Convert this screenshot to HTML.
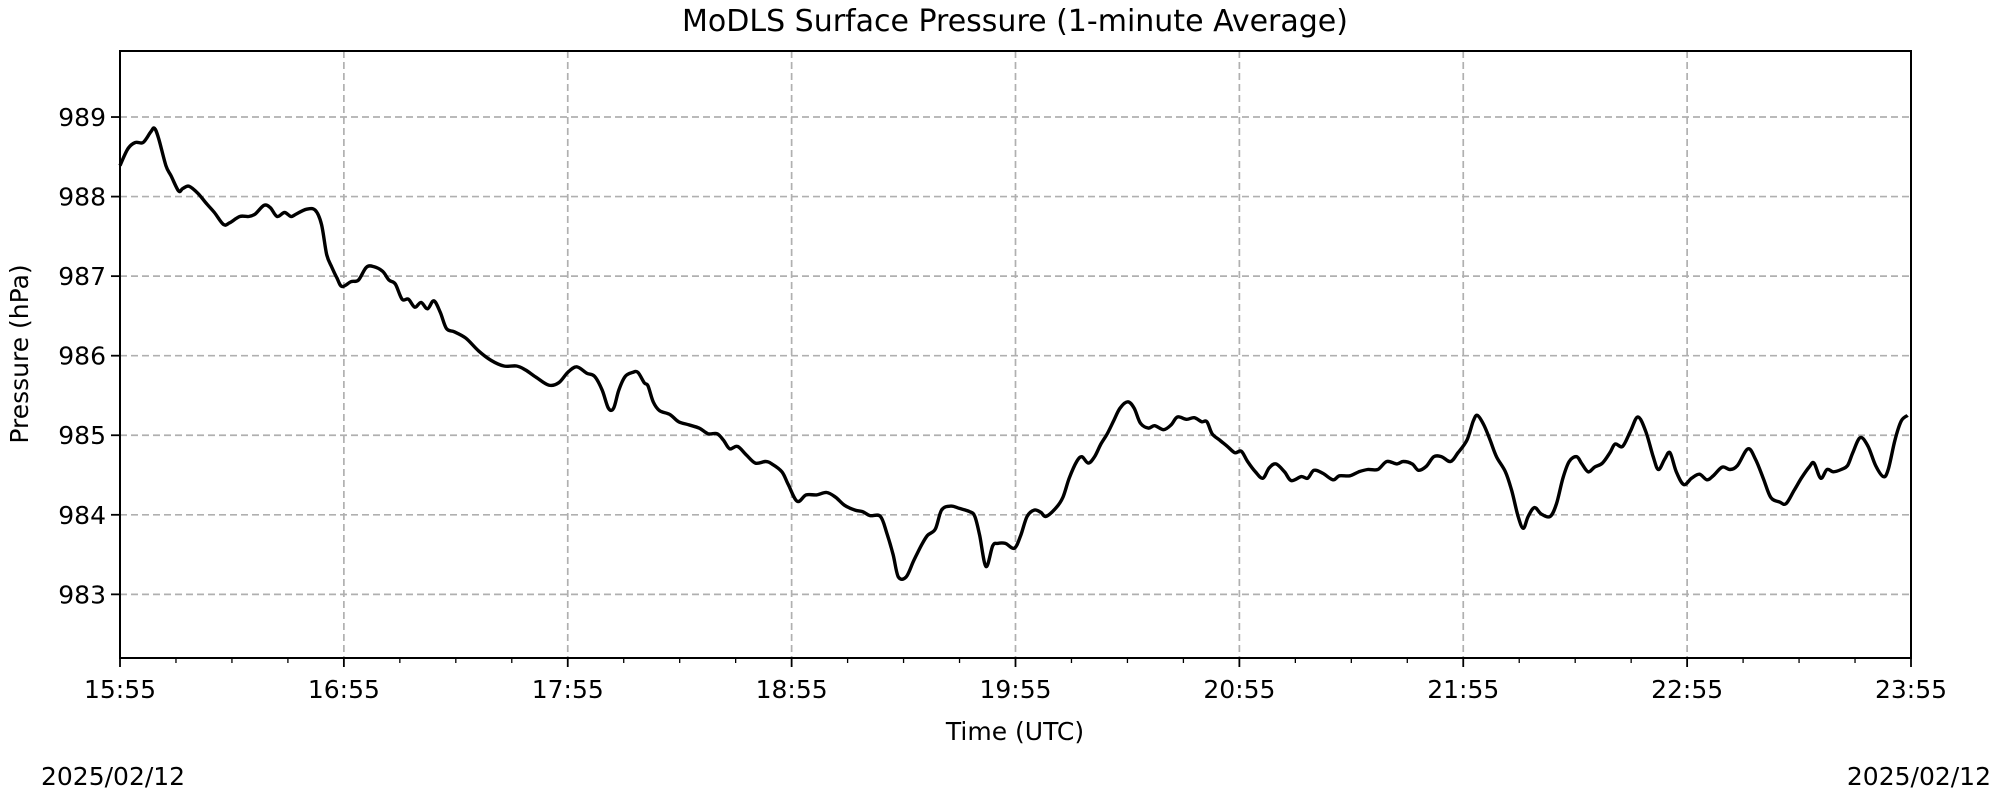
<!DOCTYPE html>
<html><head><meta charset="utf-8"><style>
html,body{margin:0;padding:0;background:#fff;}
svg{display:block;font-family:"DejaVu Sans","Liberation Sans",sans-serif;}
</style></head><body>
<svg id="chart" width="2000" height="800" viewBox="0 0 2000 800">
<text x="1015" y="31" font-size="30" text-anchor="middle">MoDLS Surface Pressure (1-minute Average)</text>
<g id="grid"></g>
<g id="axes"></g>
<path id="line" fill="none" stroke="#000" stroke-width="3.4" stroke-linejoin="round"></path>
<rect x="120" y="51" width="1791" height="607" fill="none" stroke="#000" stroke-width="2"></rect>
<text x="1015" y="740" font-size="25" text-anchor="middle">Time (UTC)</text>
<text transform="translate(28,354) rotate(-90)" font-size="25" text-anchor="middle">Pressure (hPa)</text>
<text x="41" y="785" font-size="25">2025/02/12</text>
<text x="1991" y="785" font-size="25" text-anchor="end">2025/02/12</text>
</svg>
<script>
const xTickLabels = ["15:55","16:55","17:55","18:55","19:55","20:55","21:55","22:55","23:55"];
const yTickValues = [983,984,985,986,987,988,989];
const minutes = [0,2.1,4.1,6.2,8.2,9.2,10.3,12.3,13.7,15.7,16.8,18.5,20.9,23.2,25.3,27.7,29.4,32.1,34.5,36.2,
38.6,40.3,42.1,44.1,45.8,47.2,49.9,52.3,54,55.4,56.8,58.1,59.5,61.9,63.9,66,68,70.4,72.1,73.8,
75.6,77.3,79,80.7,82.4,84.1,85.8,87.5,89.6,92.7,96.1,99.5,102.9,106.3,108.7,111.5,114.9,117.6,120,122.4,
125.1,127.2,129.2,130.9,132.3,133.7,135.4,137.4,138.8,140.5,141.5,142.9,144.6,147.4,149.7,152.5,155.2,157.6,160,161.7,
163.4,165.5,167.9,170.3,173,174.7,177.4,179.1,181.5,183.9,186.7,189.4,191.8,194.2,196.9,199,201,203.8,205.5,207.2,
208.6,210.7,212.7,214.7,216.4,218.5,220.2,222.6,225,227.7,229.1,230.4,232.1,233.9,235.2,237.3,239.7,241.4,243.1,245.1,
246.8,248.2,250.9,252.7,254.4,256.4,257.8,259.5,261.2,262.9,264.6,266.3,268,270.1,271.8,273.5,275.6,277.3,279.7,281.7,
283.4,285.8,287.9,289.9,291.3,292.7,294.7,296.8,298.8,300.5,302.2,304.3,306.3,308,309.8,312.1,313.9,316.6,318.3,320,
322.4,325.1,326.8,329.6,332,334.4,337.1,339.5,342.2,343.9,346.3,348,350.1,352.1,354.2,356.6,358.6,361,362.7,363.8,
365.5,367.2,368.9,371.3,373,374.7,376.1,377.4,379.1,380.9,383.3,385,386.7,388.4,390.4,391.8,393.5,395.2,397.3,399.3,
400.7,402.7,404.8,406.8,408.9,410.9,412.3,414,415.4,417.1,419.1,421.2,423.3,425.3,427,429.4,431.5,433.5,436.3,438.3,
440.4,442.4,444.8,446.5,448.6,450.6,452.7,454,455.8,457.5,459.2,461.3,463,464.4,466.4,468.5,470.5,472.6,473.9,475.7,
477.4,479.1];
const pressure = [988.39,988.6,988.68,988.68,988.81,988.86,988.74,988.39,988.26,988.07,988.1,988.13,988.04,987.91,987.8,987.65,987.67,987.75,987.75,987.78,
987.89,987.86,987.75,987.8,987.75,987.78,987.84,987.83,987.65,987.27,987.11,986.98,986.87,986.93,986.95,987.11,987.12,987.06,986.95,986.9,
986.71,986.71,986.61,986.67,986.59,986.69,986.55,986.34,986.3,986.22,986.06,985.94,985.87,985.87,985.82,985.73,985.63,985.66,985.79,985.86,
985.78,985.74,985.57,985.34,985.34,985.57,985.74,985.79,985.79,985.66,985.62,985.42,985.31,985.26,985.17,985.13,985.09,985.02,985.02,984.94,
984.83,984.86,984.75,984.65,984.67,984.64,984.54,984.38,984.17,984.25,984.25,984.28,984.22,984.12,984.06,984.04,983.99,983.98,983.77,983.5,
983.22,983.22,983.42,983.61,983.74,983.82,984.06,984.11,984.08,984.04,983.98,983.74,983.35,983.61,983.64,983.64,983.58,983.74,983.98,984.06,
984.03,983.98,984.09,984.22,984.46,984.67,984.73,984.65,984.73,984.89,985.02,985.18,985.34,985.42,985.34,985.15,985.09,985.12,985.07,985.13,
985.23,985.2,985.22,985.17,985.17,985.02,984.94,984.86,984.78,984.8,984.67,984.54,984.46,984.59,984.64,984.54,984.43,984.48,984.46,984.56,
984.52,984.44,984.49,984.49,984.54,984.57,984.57,984.67,984.64,984.67,984.64,984.56,984.61,984.73,984.73,984.67,984.78,984.94,985.18,985.25,
985.13,984.94,984.73,984.54,984.3,983.98,983.83,983.98,984.09,984.01,983.98,984.14,984.46,984.67,984.73,984.64,984.54,984.6,984.65,984.78,
984.89,984.86,985.05,985.23,985.05,984.73,984.57,984.7,984.78,984.54,984.38,984.46,984.51,984.44,984.49,984.6,984.57,984.62,984.83,984.7,
984.46,984.22,984.16,984.14,984.3,984.46,984.6,984.65,984.46,984.57,984.54,984.57,984.62,984.78,984.97,984.86,984.62,984.48,984.57,984.94,
985.18,985.25];

const NS='http://www.w3.org/2000/svg';
const X0=120,X1=1911,Y0=51,Y1=658,TMAX=480,VMIN=982.2,VMAX=989.83;
const xs=m=>X0+(m/TMAX)*(X1-X0);
const ys=v=>Y1-(v-VMIN)/(VMAX-VMIN)*(Y1-Y0);
const grid=document.getElementById('grid'),axes=document.getElementById('axes');
function mk(tag,attrs,parent){const e=document.createElementNS(NS,tag);for(const k in attrs)e.setAttribute(k,attrs[k]);parent.appendChild(e);return e;}
xTickLabels.forEach((lab,i)=>{
  const x=xs(i*60);
  const g=mk('line',{x1:x,x2:x,y1:Y0,y2:Y1,stroke:'#b0b0b0','stroke-width':1.7,'stroke-dasharray':'7,4'},grid);
  
  
  const t=mk('line',{x1:x,x2:x,y1:Y1,y2:Y1+9,stroke:'#000','stroke-width':1.8},axes);
  
  
  const tx=mk('text',{x:x,y:Y1+40,'font-size':25,'text-anchor':'middle'},axes);
  tx.textContent=lab;
  
  
});
for(let m=15;m<TMAX;m+=15){
  if(m%60===0)continue;
  const x=xs(m);
  const t=mk('line',{x1:x,x2:x,y1:Y1,y2:Y1+5,stroke:'#000','stroke-width':1.3},axes);
  
  
}
yTickValues.forEach(v=>{
  const y=ys(v);
  const g=mk('line',{x1:X0,x2:X1,y1:y,y2:y,stroke:'#b0b0b0','stroke-width':1.7,'stroke-dasharray':'7,4'},grid);
  
  
  const t=mk('line',{x1:X0-9,x2:X0,y1:y,y2:y,stroke:'#000','stroke-width':1.8},axes);
  
  
  const tx=mk('text',{x:X0-14,y:y+9,'font-size':25,'text-anchor':'end'},axes);
  tx.textContent=String(v);
  
  
});
const n=Math.min(minutes.length,pressure.length);
const P=[];for(let i=0;i<n;i++)P.push([xs(minutes[i]),ys(pressure[i])]);
let d='M'+P[0][0].toFixed(1)+','+P[0][1].toFixed(1);
for(let i=0;i<n-1;i++){
  const p0=P[Math.max(0,i-1)],p1=P[i],p2=P[i+1],p3=P[Math.min(n-1,i+2)];
  const c1=[p1[0]+(p2[0]-p0[0])/6,p1[1]+(p2[1]-p0[1])/6];
  const c2=[p2[0]-(p3[0]-p1[0])/6,p2[1]-(p3[1]-p1[1])/6];
  d+=' C'+c1[0].toFixed(1)+','+c1[1].toFixed(1)+' '+c2[0].toFixed(1)+','+c2[1].toFixed(1)+' '+p2[0].toFixed(1)+','+p2[1].toFixed(1);
}
document.getElementById('line').setAttribute('d',d);
</script>
</body></html>
